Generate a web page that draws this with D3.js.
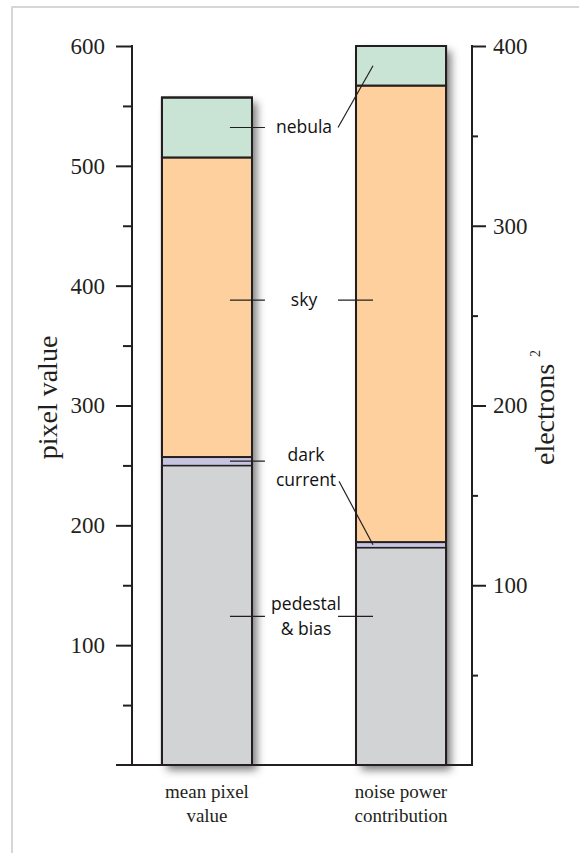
<!DOCTYPE html>
<html>
<head>
<meta charset="utf-8">
<script src="https://cdn.jsdelivr.net/npm/d3@7"></script>
<style>
  html, body { margin: 0; padding: 0; background: #fff; }
  svg { display: block; }
</style>
</head>
<body>
<svg id="chart" width="579" height="853"></svg>
<script>
// ---------- data ----------
const categories = ["mean pixel value", "noise power contribution"];
const categoryLines = [["mean pixel", "value"], ["noise power", "contribution"]];
const components = ["pedestal & bias", "dark current", "sky", "nebula"];
const componentLines = [["pedestal", "& bias"], ["dark", "current"], ["sky"], ["nebula"]];
const meanPixelValues = [250, 7, 250, 50];        // pixel value (left axis)
const noisePowerValues = [121, 3, 254, 22];       // electrons² (right axis)
const leftTicks = [100, 200, 300, 400, 500, 600];
const leftMinorTicks = [50, 150, 250, 350, 450, 550];
const rightTicks = [100, 200, 300, 400];
const rightMinorTicks = [50, 150, 250, 350];
const labelLevels = [124, 253.5, 388, 532];        // label heights in pixel-value units
const colors = ["#d1d3d4", "#c6c4e0", "#fdd09d", "#c9e4d4"];

// ---------- layout ----------
const svg = d3.select("#chart");
const ink = "#231f20";
const yTop = 46, yBottom = 765;
const xLeftAxis = 132, xRightAxis = 472;

const yL = d3.scaleLinear().domain([0, 600]).range([yBottom, yTop]);
const yR = d3.scaleLinear().domain([0, 400]).range([yBottom, yTop]);
const x = d3.scaleBand().domain(categories).range([134, 474]).paddingInner(0.536).paddingOuter(0.144);
const bw = x.bandwidth();

// frame
svg.append("rect").attr("x", 12).attr("y", 7).attr("width", 600).attr("height", 900)
  .attr("fill", "none").attr("stroke", "#d6d6d6").attr("stroke-width", 2);

// shadow filter
const defs = svg.append("defs");
const f = defs.append("filter").attr("id", "shadow").attr("x", "-30%").attr("y", "-30%").attr("width", "160%").attr("height", "160%");
f.append("feGaussianBlur").attr("stdDeviation", 4);

// stacks
function stack(vals) {
  let acc = 0;
  return vals.map((v, i) => { const s = { i, y0: acc, y1: acc + v }; acc += v; return s; });
}
const bars = [
  { cat: categories[0], scale: yL, segs: stack(meanPixelValues) },
  { cat: categories[1], scale: yR, segs: stack(noisePowerValues) }
];

bars.forEach(b => {
  const g = svg.append("g");
  const top = b.segs[b.segs.length - 1].y1;
  // shadow
  g.append("rect")
    .attr("x", x(b.cat) + 5).attr("y", b.scale(top) + 5)
    .attr("width", bw).attr("height", b.scale(0) - b.scale(top))
    .attr("fill", "#666").attr("opacity", 0.85).attr("filter", "url(#shadow)");
  g.selectAll("rect.seg").data(b.segs).join("rect")
    .attr("class", "seg")
    .attr("x", x(b.cat)).attr("y", d => b.scale(d.y1))
    .attr("width", bw).attr("height", d => b.scale(d.y0) - b.scale(d.y1))
    .attr("fill", d => colors[d.i])
    .attr("stroke", ink).attr("stroke-width", d => d.i === 1 ? 1.2 : 2);
  // outer border
  g.append("rect")
    .attr("x", x(b.cat)).attr("y", b.scale(top))
    .attr("width", bw).attr("height", b.scale(0) - b.scale(top))
    .attr("fill", "none").attr("stroke", ink).attr("stroke-width", 2);
});

// ---------- axes ----------
function styleAxis(g) {
  g.selectAll("path.domain").remove();
  g.selectAll("line").attr("stroke", ink).attr("stroke-width", 2);
  g.selectAll("text").attr("fill", ink).attr("font-family", "'Liberation Serif', 'DejaVu Serif', serif").attr("font-size", 23);
}
const gL = svg.append("g").attr("transform", `translate(${xLeftAxis},0)`)
  .call(d3.axisLeft(yL).tickValues(leftTicks).tickSize(16).tickPadding(11).tickFormat(d3.format("d")));
styleAxis(gL);
const gLm = svg.append("g").attr("transform", `translate(${xLeftAxis},0)`)
  .call(d3.axisLeft(yL).tickValues(leftMinorTicks).tickSize(9).tickFormat(""));
styleAxis(gLm);
svg.append("line").attr("x1", xLeftAxis).attr("x2", xLeftAxis).attr("y1", yL(600) - 1).attr("y2", yBottom)
  .attr("stroke", ink).attr("stroke-width", 2);

const gR = svg.append("g").attr("transform", `translate(${xRightAxis},0)`)
  .call(d3.axisRight(yR).tickValues(rightTicks).tickSize(14).tickPadding(7).tickFormat(d3.format("d")));
styleAxis(gR);
const gRm = svg.append("g").attr("transform", `translate(${xRightAxis},0)`)
  .call(d3.axisRight(yR).tickValues(rightMinorTicks).tickSize(6).tickFormat(""));
styleAxis(gRm);
svg.append("line").attr("x1", xRightAxis).attr("x2", xRightAxis).attr("y1", yR(400) - 1).attr("y2", yBottom + 1)
  .attr("stroke", ink).attr("stroke-width", 2);

// baseline
svg.append("line").attr("x1", 116).attr("x2", xRightAxis + 1).attr("y1", yBottom).attr("y2", yBottom)
  .attr("stroke", ink).attr("stroke-width", 2);

// axis titles
const serif = "'Liberation Serif', 'DejaVu Serif', serif";
svg.append("text").attr("transform", `translate(57,${(yTop + yBottom) / 2 - 8}) rotate(-90)`)
  .attr("text-anchor", "middle").attr("font-family", serif).attr("font-size", 28).attr("fill", ink)
  .text("pixel value");
const et = svg.append("text").attr("transform", `translate(554,${(yTop + yBottom) / 2 + 2}) rotate(-90)`)
  .attr("text-anchor", "middle").attr("font-family", serif).attr("font-size", 28).attr("fill", ink);
et.append("tspan").text("electrons ");
et.append("tspan").attr("font-size", 14).attr("dy", -14).text("2");

// category labels
categoryLines.forEach((lines, ci) => {
  const t = svg.append("text").attr("text-anchor", "middle").attr("font-family", serif)
    .attr("font-size", 19).attr("fill", ink);
  lines.forEach((ln, li) => {
    t.append("tspan").attr("x", x(categories[ci]) + bw / 2).attr("y", 798 + li * 24).text(ln);
  });
});

// component labels & leaders
const sans = "'Open Sans', 'Noto Sans', sans-serif";
const b1 = x(categories[0]), b2 = x(categories[1]);
const segs2 = bars[1].segs;
componentLines.forEach((lines, i) => {
  const yc = yL(labelLevels[i]);
  const cx = (b1 + bw + b2) / 2;
  const n = lines.length;
  const lh = n > 1 ? 25 : 0;
  const t = svg.append("text").attr("text-anchor", "middle").attr("font-family", sans)
    .attr("font-size", 17.5).attr("fill", "#111");
  lines.forEach((ln, li) => {
    t.append("tspan").attr("x", cx + (n > 1 ? 2 : 0)).attr("y", yc + 6 - (n - 1) * lh / 2 + li * lh + (i === 1 ? 6 : 0)).text(ln);
  });
  // left leader
  svg.append("line").attr("x1", b1 + 68).attr("x2", b1 + 103).attr("y1", yc).attr("y2", yc)
    .attr("stroke", ink).attr("stroke-width", 1.2);
  // right leader
  let x1 = b2 - 18, y1 = yc, x2 = b2 + 17, y2 = yc;
  if (i === 3) { x1 = b2 - 18; y1 = yc; y2 = yR((segs2[3].y0 + segs2[3].y1) / 2); }
  if (i === 1) { x1 = b2 - 17; y1 = yc + 20; y2 = yR((segs2[1].y0 + segs2[1].y1) / 2); }
  svg.append("line").attr("x1", x1).attr("x2", x2).attr("y1", y1).attr("y2", y2)
    .attr("stroke", ink).attr("stroke-width", 1.2);
});
</script>
</body>
</html>
